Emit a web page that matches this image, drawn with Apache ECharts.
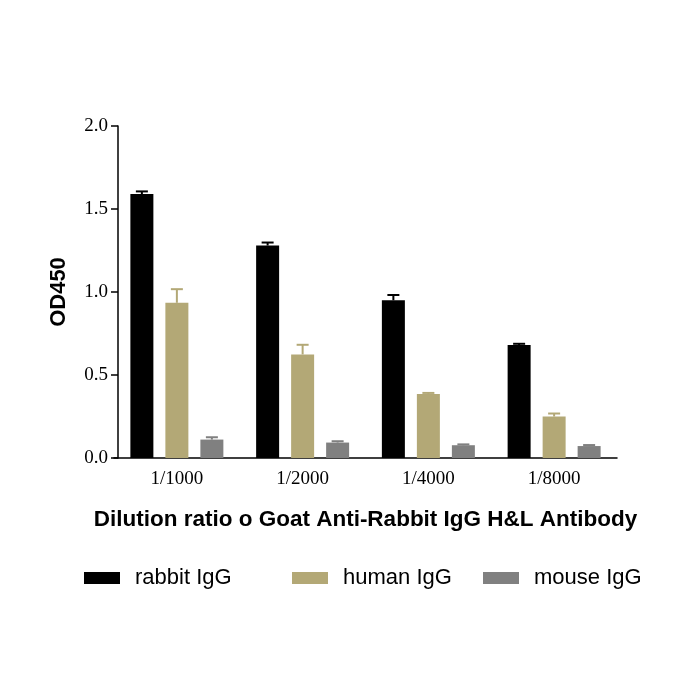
<!DOCTYPE html>
<html>
<head>
<meta charset="utf-8">
<script src="https://cdn.jsdelivr.net/npm/echarts@6/dist/echarts.min.js"></script>
<style>
  html, body { margin: 0; padding: 0; background: #fff; }
  #chart { width: 700px; height: 700px; }
</style>
</head>
<body>
<div id="chart"></div>
<script>
const categories = ['1/1000', '1/2000', '1/4000', '1/8000'];
const seriesNames = ['rabbit IgG', 'human IgG', 'mouse IgG'];
const rabbitValues = [1.59, 1.28, 0.95, 0.68];
const rabbitErrors = [0.016, 0.018, 0.032, 0.008];
const humanValues = [0.935, 0.624, 0.386, 0.25];
const humanErrors = [0.082, 0.058, 0.006, 0.018];
const mouseValues = [0.111, 0.093, 0.077, 0.072];
const mouseErrors = [0.014, 0.008, 0.005, 0.006];
const colors = ['#000000', '#b3a876', '#808080'];

const barWidth = 23;
const barSpacing = 12;

const serif = '"Liberation Serif", "Times New Roman", serif';
const sans = '"Liberation Sans", Arial, sans-serif';

const values = [rabbitValues, humanValues, mouseValues];
const errors = [rabbitErrors, humanErrors, mouseErrors];

const bars = seriesNames.map((name, i) => ({
  name: name,
  type: 'bar',
  data: values[i],
  barWidth: barWidth,
  barGap: (barSpacing / barWidth * 100) + '%',
  itemStyle: { color: colors[i] },
  z: 2
}));

// upper error bars with a cap, drawn over each bar
const errorBars = seriesNames.map((name, i) => ({
  name: name + ' error',
  type: 'custom',
  z: 3,
  data: values[i].map((v, k) => [k, v, errors[i][k]]),
  renderItem: (params, api) => {
    const k = api.value(0);
    const v = api.value(1);
    const e = api.value(2);
    const base = api.coord([k, v]);
    const top = api.coord([k, v + e]);
    const x = base[0] + (i - 1) * (barWidth + barSpacing);
    const style = { stroke: colors[i], lineWidth: 2 };
    return {
      type: 'group',
      children: [
        { type: 'line', shape: { x1: x, y1: base[1], x2: x, y2: top[1] }, style: style },
        { type: 'line', shape: { x1: x - 6, y1: top[1], x2: x + 6, y2: top[1] }, style: style }
      ]
    };
  }
}));

const legendLefts = [79, 287, 478];
const legends = seriesNames.map((name, i) => ({
  data: [{ name: name, icon: 'rect' }],
  left: legendLefts[i],
  top: 562,
  itemWidth: 36,
  itemHeight: 12,
  itemGap: 0,
  textStyle: { fontFamily: sans, fontSize: 22, color: '#000', padding: [0, 0, 0, 10] }
}));

const option = {
  animation: false,
  backgroundColor: '#fff',
  grid: { left: 114, right: 83, top: 126, bottom: 242 },
  legend: legends,
  xAxis: {
    type: 'category',
    data: categories,
    name: 'Dilution ratio o Goat Anti-Rabbit IgG H&L Antibody',
    nameLocation: 'middle',
    nameGap: 50,
    nameMoveOverlap: false,
    nameTextStyle: { fontFamily: sans, fontWeight: 'bold', fontSize: 22.5, color: '#000' },
    axisLine: { lineStyle: { color: '#000', width: 1.5 } },
    axisTick: { alignWithLabel: true, length: 5, lineStyle: { color: '#000', width: 1.5 } },
    axisLabel: { fontFamily: serif, fontSize: 19, color: '#000', margin: 12 }
  },
  yAxis: {
    type: 'value',
    min: 0,
    max: 2,
    interval: 0.5,
    offset: -4,
    name: 'OD450',
    nameLocation: 'middle',
    nameGap: 48,
    nameMoveOverlap: false,
    nameTextStyle: { fontFamily: sans, fontWeight: 'bold', fontSize: 22, color: '#000' },
    axisLine: { show: true, lineStyle: { color: '#000', width: 1.5 } },
    axisTick: { show: true, length: 7, lineStyle: { color: '#000', width: 1.5 } },
    splitLine: { show: false },
    axisLabel: {
      fontFamily: serif, fontSize: 19, color: '#000', margin: 10,
      formatter: v => v.toFixed(1)
    }
  },
  series: bars.concat(errorBars)
};

const chart = echarts.init(document.getElementById('chart'));
chart.setOption(option);
</script>
</body>
</html>
